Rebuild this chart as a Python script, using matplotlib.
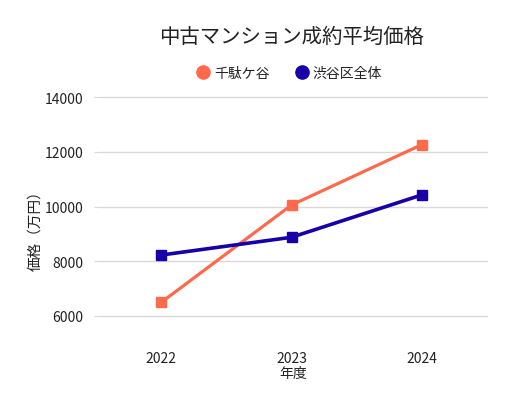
import matplotlib
matplotlib.use('Agg')
import matplotlib.pyplot as plt
from matplotlib.lines import Line2D

# 폰트 설정 (일본어 표시용)
plt.rcParams['font.family'] = ['Noto Sans CJK JP', 'DejaVu Sans']

# --- 데이터 ---
years = ['2022', '2023', '2024']
sendagaya = [6500, 10060, 12270]
shibuya_all = [8230, 8880, 10430]
series_names = ['千駄ケ谷', '渋谷区全体']
colors = ['#ff6a4d', '#1700a8']

fig = plt.figure(figsize=(5.14, 4.14), dpi=100)
ax = fig.add_axes([100 / 514, 1 - 317 / 414, 387 / 514, (317 - 98.3) / 414])

x = range(len(years))
ax.plot(x, sendagaya, color=colors[0], linewidth=2.3, marker='s',
        markersize=7.8, zorder=3)
ax.plot(x, shibuya_all, color=colors[1], linewidth=2.6, marker='s',
        markersize=7.8, zorder=4)

ax.set_xlim(-0.47, 2.5)
ax.set_ylim(6000, 14000)
ax.set_yticks([6000, 8000, 10000, 12000, 14000])
ax.set_xticks(list(x))
ax.set_xticklabels(years)

ax.grid(axis='y', color='#d9d9d9', linewidth=1)
for gl in ax.get_ygridlines():
    gl.set_clip_on(False)
ax.set_axisbelow(True)
for s in ax.spines.values():
    s.set_visible(False)
ax.tick_params(axis='y', length=4, color='#d9d9d9', pad=8, labelsize=10,
               labelcolor='#222222')
ax.tick_params(axis='x', length=0, pad=25, labelsize=10, labelcolor='#222222')

ax.set_xlabel('年度', fontsize=10, color='#222222', labelpad=1)
ax.set_ylabel('価格（万円）', fontsize=10.5, color='#222222')
ax.yaxis.set_label_coords(-0.15, 0.41)

fig.text(291 / 514, 1 - 37 / 414, '中古マンション成約平均価格', ha='center',
         va='center', fontsize=14.7, color='#222222')

handles = [Line2D([], [], linestyle='none', marker='o', markersize=9.5,
                  color=c) for c in colors]
fig.legend(handles, series_names, loc='center', ncol=2,
           bbox_to_anchor=(289 / 514, 1 - 74 / 414), frameon=False,
           fontsize=10, handletextpad=0.3, columnspacing=1.8,
           handlelength=1.0, labelcolor='#222222')

fig.savefig('out.png', dpi=100)
